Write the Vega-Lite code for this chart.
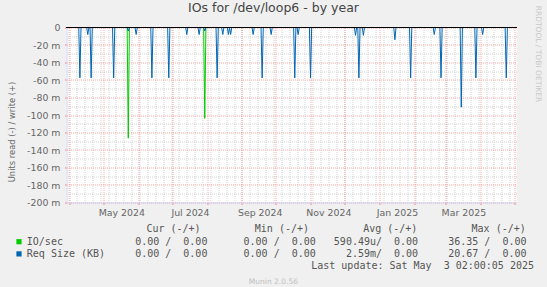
{
  "$schema": "https://vega.github.io/schema/vega-lite/v6.json",
  "width": 450,
  "height": 175,
  "autosize": "none",
  "padding": {"left": 66.5, "top": 27.5, "right": 30.5, "bottom": 84.5},
  "background": "#f0f0f0",
  "title": {"text": "IOs for /dev/loop6 - by year", "font": "DejaVu Sans", "fontSize": 12.5, "fontWeight": "normal", "color": "#444444", "anchor": "middle", "frame": "group", "dx": -18, "dy": 22.8, "offset": 4, "baseline": "alphabetic"},
  "config": {
    "view": {"fill": "#ffffff", "stroke": null},
    "font": "DejaVu Sans",
    "axis": {"labelFont": "DejaVu Sans", "labelFontSize": 9.4, "labelColor": "#666666", "titleFont": "DejaVu Sans", "titleFontWeight": "normal", "titleColor": "#666666", "domainColor": "#cfd6f8"}
  },
  "data": {"values": [
    {"s": "io", "t": "2024-03-29T02:00", "v": 0},
    {"s": "io", "t": "2024-05-22T00:00", "v": 0},
    {"s": "io", "t": "2024-05-23T00:00", "v": -0.1265},
    {"s": "io", "t": "2024-05-24T00:00", "v": 0},
    {"s": "io", "t": "2024-07-29T00:00", "v": 0},
    {"s": "io", "t": "2024-07-30T00:00", "v": -0.1038},
    {"s": "io", "t": "2024-07-31T00:00", "v": 0},
    {"s": "io", "t": "2025-05-03T02:00", "v": 0},
    {"s": "req", "t": "2024-03-29T02:00", "v": 0},
    {"s": "req", "t": "2024-04-09T00:00", "v": 0},
    {"s": "req", "t": "2024-04-10T00:00", "v": -0.0576},
    {"s": "req", "t": "2024-04-11T00:00", "v": 0},
    {"s": "req", "t": "2024-04-16T00:00", "v": 0},
    {"s": "req", "t": "2024-04-17T00:00", "v": -0.008},
    {"s": "req", "t": "2024-04-18T00:00", "v": 0},
    {"s": "req", "t": "2024-04-19T00:00", "v": 0},
    {"s": "req", "t": "2024-04-20T00:00", "v": -0.0576},
    {"s": "req", "t": "2024-04-21T00:00", "v": 0},
    {"s": "req", "t": "2024-05-09T00:00", "v": 0},
    {"s": "req", "t": "2024-05-10T00:00", "v": -0.0576},
    {"s": "req", "t": "2024-05-11T00:00", "v": 0},
    {"s": "req", "t": "2024-05-22T00:00", "v": 0},
    {"s": "req", "t": "2024-05-23T00:00", "v": -0.004},
    {"s": "req", "t": "2024-05-24T00:00", "v": 0},
    {"s": "req", "t": "2024-05-29T00:00", "v": 0},
    {"s": "req", "t": "2024-05-30T00:00", "v": -0.008},
    {"s": "req", "t": "2024-05-31T00:00", "v": 0},
    {"s": "req", "t": "2024-06-12T00:00", "v": 0},
    {"s": "req", "t": "2024-06-13T00:00", "v": -0.0576},
    {"s": "req", "t": "2024-06-14T00:00", "v": 0},
    {"s": "req", "t": "2024-06-27T00:00", "v": 0},
    {"s": "req", "t": "2024-06-28T00:00", "v": -0.0576},
    {"s": "req", "t": "2024-06-29T00:00", "v": 0},
    {"s": "req", "t": "2024-07-13T00:00", "v": 0},
    {"s": "req", "t": "2024-07-14T00:00", "v": -0.008},
    {"s": "req", "t": "2024-07-15T00:00", "v": 0},
    {"s": "req", "t": "2024-07-24T00:00", "v": 0},
    {"s": "req", "t": "2024-07-25T00:00", "v": -0.008},
    {"s": "req", "t": "2024-07-26T00:00", "v": 0},
    {"s": "req", "t": "2024-07-29T00:00", "v": 0},
    {"s": "req", "t": "2024-07-30T00:00", "v": -0.004},
    {"s": "req", "t": "2024-07-31T00:00", "v": 0},
    {"s": "req", "t": "2024-08-09T00:00", "v": 0},
    {"s": "req", "t": "2024-08-10T00:00", "v": -0.0576},
    {"s": "req", "t": "2024-08-11T00:00", "v": 0},
    {"s": "req", "t": "2024-08-14T00:00", "v": 0},
    {"s": "req", "t": "2024-08-15T00:00", "v": -0.008},
    {"s": "req", "t": "2024-08-16T00:00", "v": 0},
    {"s": "req", "t": "2024-08-19T00:00", "v": 0},
    {"s": "req", "t": "2024-08-20T00:00", "v": -0.008},
    {"s": "req", "t": "2024-08-21T00:00", "v": 0},
    {"s": "req", "t": "2024-08-22T00:00", "v": -0.008},
    {"s": "req", "t": "2024-08-23T00:00", "v": 0},
    {"s": "req", "t": "2024-09-10T00:00", "v": 0},
    {"s": "req", "t": "2024-09-11T00:00", "v": -0.008},
    {"s": "req", "t": "2024-09-12T00:00", "v": 0},
    {"s": "req", "t": "2024-09-18T00:00", "v": 0},
    {"s": "req", "t": "2024-09-19T00:00", "v": -0.0576},
    {"s": "req", "t": "2024-09-20T00:00", "v": 0},
    {"s": "req", "t": "2024-09-26T00:00", "v": 0},
    {"s": "req", "t": "2024-09-27T00:00", "v": -0.008},
    {"s": "req", "t": "2024-09-28T00:00", "v": 0},
    {"s": "req", "t": "2024-10-17T00:00", "v": 0},
    {"s": "req", "t": "2024-10-18T00:00", "v": -0.0576},
    {"s": "req", "t": "2024-10-19T00:00", "v": 0},
    {"s": "req", "t": "2024-10-20T00:00", "v": 0},
    {"s": "req", "t": "2024-10-21T00:00", "v": -0.008},
    {"s": "req", "t": "2024-10-22T00:00", "v": 0},
    {"s": "req", "t": "2024-10-31T00:00", "v": 0},
    {"s": "req", "t": "2024-11-01T00:00", "v": -0.0576},
    {"s": "req", "t": "2024-11-02T00:00", "v": 0},
    {"s": "req", "t": "2024-12-10T00:00", "v": 0},
    {"s": "req", "t": "2024-12-11T00:00", "v": -0.009},
    {"s": "req", "t": "2024-12-12T00:00", "v": 0},
    {"s": "req", "t": "2024-12-13T00:00", "v": 0},
    {"s": "req", "t": "2024-12-14T00:00", "v": -0.0576},
    {"s": "req", "t": "2024-12-15T00:00", "v": 0},
    {"s": "req", "t": "2024-12-17T00:00", "v": 0},
    {"s": "req", "t": "2024-12-18T00:00", "v": -0.009},
    {"s": "req", "t": "2024-12-19T00:00", "v": 0},
    {"s": "req", "t": "2025-01-14T00:00", "v": 0},
    {"s": "req", "t": "2025-01-15T00:00", "v": -0.014},
    {"s": "req", "t": "2025-01-16T00:00", "v": 0},
    {"s": "req", "t": "2025-01-28T00:00", "v": 0},
    {"s": "req", "t": "2025-01-29T00:00", "v": -0.0576},
    {"s": "req", "t": "2025-01-30T00:00", "v": 0},
    {"s": "req", "t": "2025-02-18T00:00", "v": 0},
    {"s": "req", "t": "2025-02-19T00:00", "v": -0.008},
    {"s": "req", "t": "2025-02-20T00:00", "v": 0},
    {"s": "req", "t": "2025-02-24T00:00", "v": 0},
    {"s": "req", "t": "2025-02-25T00:00", "v": -0.0576},
    {"s": "req", "t": "2025-02-26T00:00", "v": 0},
    {"s": "req", "t": "2025-03-14T00:00", "v": 0},
    {"s": "req", "t": "2025-03-15T00:00", "v": -0.091},
    {"s": "req", "t": "2025-03-16T00:00", "v": 0},
    {"s": "req", "t": "2025-03-27T00:00", "v": 0},
    {"s": "req", "t": "2025-03-28T00:00", "v": -0.0576},
    {"s": "req", "t": "2025-03-29T00:00", "v": 0},
    {"s": "req", "t": "2025-04-02T00:00", "v": 0},
    {"s": "req", "t": "2025-04-03T00:00", "v": -0.008},
    {"s": "req", "t": "2025-04-04T00:00", "v": 0},
    {"s": "req", "t": "2025-04-23T00:00", "v": 0},
    {"s": "req", "t": "2025-04-24T00:00", "v": -0.0576},
    {"s": "req", "t": "2025-04-25T00:00", "v": 0},
    {"s": "req", "t": "2025-05-03T02:00", "v": 0}
  ]},
  "resolve": {"axis": {"x": "independent", "y": "independent"}},
  "layer": [
    {
      "mark": {"type": "point", "opacity": 0},
      "encoding": {
        "x": {"field": "t", "type": "temporal",
          "scale": {"domain": [{"year": 2024, "month": 3, "date": 29, "hours": 2}, {"year": 2025, "month": 5, "date": 3, "hours": 2}], "nice": false},
          "axis": {"orient": "top", "tickCount": {"interval": "week", "step": 1}, "grid": true, "gridColor": "#c0c0c0", "gridOpacity": 0.7, "gridDash": [1, 1], "ticks": false, "labels": false, "domain": false,
            "title": "Munin 2.0.56", "titleFont": "DejaVu Sans", "titleFontSize": 7.5, "titleColor": "#c0c0c0", "titleX": 206.4, "titleY": 255.5, "titleAlign": "center", "titleBaseline": "alphabetic"}},
        "y": {"field": "v", "type": "quantitative",
          "scale": {"domain": [-0.2, 0], "nice": false, "zero": false},
          "axis": {"orient": "right", "values": [-0.01, -0.03, -0.05, -0.07, -0.09, -0.11, -0.13, -0.15, -0.17, -0.19], "grid": true, "gridColor": "#c0c0c0", "gridOpacity": 0.7, "gridDash": [1, 1], "ticks": false, "labels": false, "domain": false,
            "title": "RRDTOOL / TOBI OETIKER", "titleFont": "DejaVu Sans", "titleFontSize": 7.5, "titleColor": "#c8c8c8", "titleAngle": 90, "titleX": 20.5, "titleY": 26, "titleAlign": "center", "titleBaseline": "middle"}}
      }
    },
    {
      "mark": {"type": "line", "strokeWidth": 1, "interpolate": "linear"},
      "encoding": {
        "x": {"field": "t", "type": "temporal",
          "axis": {"orient": "bottom", "values": [
            {"year": 2024, "month": 4, "date": 1}, {"year": 2024, "month": 5, "date": 1}, {"year": 2024, "month": 6, "date": 1}, {"year": 2024, "month": 7, "date": 1},
            {"year": 2024, "month": 8, "date": 1}, {"year": 2024, "month": 9, "date": 1}, {"year": 2024, "month": 10, "date": 1}, {"year": 2024, "month": 11, "date": 1},
            {"year": 2024, "month": 12, "date": 1}, {"year": 2025, "month": 1, "date": 1}, {"year": 2025, "month": 2, "date": 1}, {"year": 2025, "month": 3, "date": 1},
            {"year": 2025, "month": 4, "date": 1}, {"year": 2025, "month": 5, "date": 1}],
            "grid": true, "gridColor": "#ff8080", "gridOpacity": 0.7, "gridDash": [1, 1], "ticks": true, "tickSize": 2, "tickColor": "#ff8080", "domain": true, "domainColor": "#cfd6f8",
            "labelExpr": "(month(datum.value) % 2 == 0 && datum.value < datetime(2025, 3, 15)) ? timeFormat(datum.value, '%b %Y') : ''",
            "labelOffset": 17.8, "labelPadding": 10.7, "labelBaseline": "alphabetic", "labelAlign": "center", "labelFlush": false, "labelOverlap": false, "labelBound": false,
            "title": "Last update: Sat May\u00a0\u00a03 02:00:05 2025", "titleFont": "DejaVu Sans Mono", "titleFontSize": 10, "titleColor": "#555555", "titleX": 467, "titleY": 66, "titleAlign": "right", "titleBaseline": "alphabetic"}},
        "y": {"field": "v", "type": "quantitative",
          "axis": {"orient": "left", "values": [0, -0.02, -0.04, -0.06, -0.08, -0.1, -0.12, -0.14, -0.16, -0.18, -0.2], "grid": true, "gridColor": "#ff8080", "gridOpacity": 0.7, "gridDash": [1, 1], "ticks": true, "tickSize": 2, "tickColor": "#ff8080", "domainColor": "#cfd6f8",
            "labelExpr": "datum.value == 0 ? '0' : '-' + format(-datum.value * 1000, '.0f') + ' m'", "labelPadding": 4.5, "labelBaseline": "middle",
            "title": "Units read (-) / write (+)", "titleFontSize": 8.4, "titleColor": "#666666", "titleX": -55.5, "titleY": 104, "titleAngle": -90, "titleAlign": "center", "titleBaseline": "middle"}},
        "color": {"field": "s", "type": "nominal",
          "scale": {"domain": ["io", "req"], "range": ["#00cc00", "#0066b3"]},
          "legend": {"orient": "none", "legendX": -52.5, "legendY": 196.7, "direction": "vertical", "padding": 0,
            "title": "\u200b\u00a0\u00a0\u00a0\u00a0\u00a0\u00a0\u00a0\u00a0\u00a0\u00a0\u00a0\u00a0\u00a0\u00a0\u00a0\u00a0\u00a0\u00a0\u00a0\u00a0\u00a0\u00a0Cur\u00a0(-/+)\u00a0\u00a0\u00a0\u00a0\u00a0\u00a0\u00a0\u00a0\u00a0Min\u00a0(-/+)\u00a0\u00a0\u00a0\u00a0\u00a0\u00a0\u00a0\u00a0\u00a0Avg\u00a0(-/+)\u00a0\u00a0\u00a0\u00a0\u00a0\u00a0\u00a0\u00a0\u00a0Max\u00a0(-/+)",
            "titleFont": "DejaVu Sans Mono", "titleFontSize": 10, "titleFontWeight": "normal", "titleColor": "#555555", "titleBaseline": "top", "titlePadding": 2.5, "titleLimit": 1000,
            "labelFont": "DejaVu Sans Mono", "labelFontSize": 10, "labelColor": "#555555", "labelLimit": 1000, "labelOffset": 2.8,
            "labelExpr": "datum.value == 'io' ? 'IO/sec\u00a0\u00a0\u00a0\u00a0\u00a0\u00a0\u00a0\u00a0\u00a0\u00a0\u00a0\u00a00.00\u00a0/\u00a0\u00a00.00\u00a0\u00a0\u00a0\u00a0\u00a0\u00a00.00\u00a0/\u00a0\u00a00.00\u00a0\u00a0\u00a0590.49u/\u00a0\u00a00.00\u00a0\u00a0\u00a0\u00a0\u00a036.35\u00a0/\u00a0\u00a00.00' : 'Req\u00a0Size\u00a0(KB)\u00a0\u00a0\u00a0\u00a0\u00a00.00\u00a0/\u00a0\u00a00.00\u00a0\u00a0\u00a0\u00a0\u00a0\u00a00.00\u00a0/\u00a0\u00a00.00\u00a0\u00a0\u00a0\u00a0\u00a02.59m/\u00a0\u00a00.00\u00a0\u00a0\u00a0\u00a0\u00a020.67\u00a0/\u00a0\u00a00.00'",
            "symbolType": "square", "symbolSize": 27, "symbolStrokeWidth": 0, "rowPadding": 2.2,
            "encode": {"symbols": {"update": {"fill": {"scale": "color", "field": "value"}, "fillOpacity": {"value": 1}, "strokeWidth": {"value": 0}}}}}}
      }
    },
    {
      "mark": {"type": "rule", "color": "#000000", "strokeWidth": 1},
      "encoding": {"y": {"datum": 0, "type": "quantitative", "axis": null}}
    }
  ]
}
